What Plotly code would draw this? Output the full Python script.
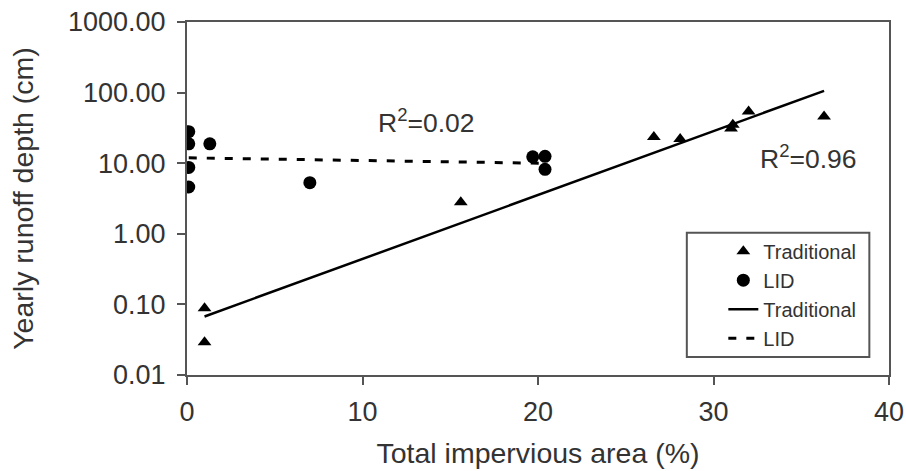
import numpy as np
import plotly.graph_objects as go

# ---- data ----
trad_x = [1.0, 1.0, 15.6, 26.6, 28.1, 31.0, 31.1, 32.0, 36.3]
trad_y = [0.088, 0.029, 2.8, 23.5, 22.0, 31.0, 35.0, 54.0, 46.0]

lid_x = [0.1, 0.1, 0.1, 0.1, 1.3, 7.0, 19.7, 20.4, 20.4]
lid_y = [28.0, 18.8, 8.7, 4.6, 18.8, 5.3, 12.3, 12.5, 8.2]

y_tickvals = [0.01, 0.1, 1, 10, 100, 1000]
y_ticktext = ["0.01", "0.10", "1.00", "10.00", "100.00", "1000.00"]
x_tickvals = [0, 10, 20, 30, 40]

r2_trad = "R<sup>2</sup>=0.96"
r2_lid = "R<sup>2</sup>=0.02"

# exponential trend lines (linear fit of log10(y) on x), drawn over each series' x span
def trend(xs, ys):
    b, a = np.polyfit(np.array(xs), np.log10(np.array(ys)), 1)
    xe = np.array([min(xs), max(xs)])
    return xe, 10 ** (a + b * xe)

tx, ty = trend(trad_x, trad_y)
lx, ly = trend(lid_x, lid_y)

FONT = "Liberation Sans, Arial, sans-serif"
TXT = "#333333"
AX = "#555555"

fig = go.Figure()
fig.add_trace(go.Scatter(x=trad_x, y=trad_y, mode="markers", name="Traditional",
                         marker=dict(symbol="triangle-up", size=12, color="black")))
fig.add_trace(go.Scatter(x=lid_x, y=lid_y, mode="markers", name="LID",
                         marker=dict(symbol="circle", size=13, color="black")))
fig.add_trace(go.Scatter(x=tx, y=ty, mode="lines", name="Traditional",
                         line=dict(color="black", width=2.5)))
fig.add_trace(go.Scatter(x=lx, y=ly, mode="lines", name="LID",
                         line=dict(color="black", width=3, dash="8px,10px")))

fig.update_layout(
    width=906, height=471,
    margin=dict(l=187, r=17, t=22, b=96),
    paper_bgcolor="white", plot_bgcolor="white",
    font=dict(family=FONT, color=TXT, size=27),
    showlegend=True,
    legend=dict(x=0.764, y=0.406, xanchor="left", yanchor="top",
                bgcolor="rgba(0,0,0,0)", borderwidth=0,
                font=dict(size=20, family=FONT, color=TXT),
                tracegroupgap=0, itemwidth=30),
    xaxis=dict(range=[0, 40], tickvals=x_tickvals, showgrid=False, zeroline=False,
               showline=True, linecolor=AX, linewidth=2, mirror=True,
               ticks="outside", ticklen=8, tickwidth=2, tickcolor=AX,
               ticklabelstandoff=4, automargin=False, ticklabeloverflow="allow",
               tickfont=dict(size=27, family=FONT, color=TXT),
               title=dict(text="Total impervious area (%)", standoff=17,
                          font=dict(size=28.5, family=FONT, color=TXT))),
    yaxis=dict(type="log", range=[-2, 3], tickvals=y_tickvals, ticktext=y_ticktext,
               showgrid=False, zeroline=False,
               showline=True, linecolor=AX, linewidth=2, mirror=True,
               ticks="outside", ticklen=8, tickwidth=2, tickcolor=AX,
               ticklabelstandoff=6, automargin=False, ticklabeloverflow="allow",
               tickfont=dict(size=27, family=FONT, color=TXT),
               title=dict(text="Yearly runoff depth (cm)", standoff=26,
                          font=dict(size=28.5, family=FONT, color=TXT))),
    shapes=[dict(type="rect", xref="paper", yref="paper",
                 x0=0.712, x1=0.972, y0=0.051, y1=0.403,
                 line=dict(color=AX, width=2), fillcolor="rgba(0,0,0,0)")],
    annotations=[
        dict(x=13.66, y=1.60, xref="x", yref="y", text=r2_lid, showarrow=False,
             font=dict(size=26.5, family=FONT, color=TXT)),
        dict(x=35.43, y=1.09, xref="x", yref="y", text=r2_trad, showarrow=False,
             font=dict(size=26.5, family=FONT, color=TXT)),
    ],
)

# remove the page's default 8px body margin so the figure fills the window exactly
fig.write_html("out.html",
               config={"displayModeBar": False},
               post_script="document.body.style.margin='0';document.body.style.overflow='hidden';")
